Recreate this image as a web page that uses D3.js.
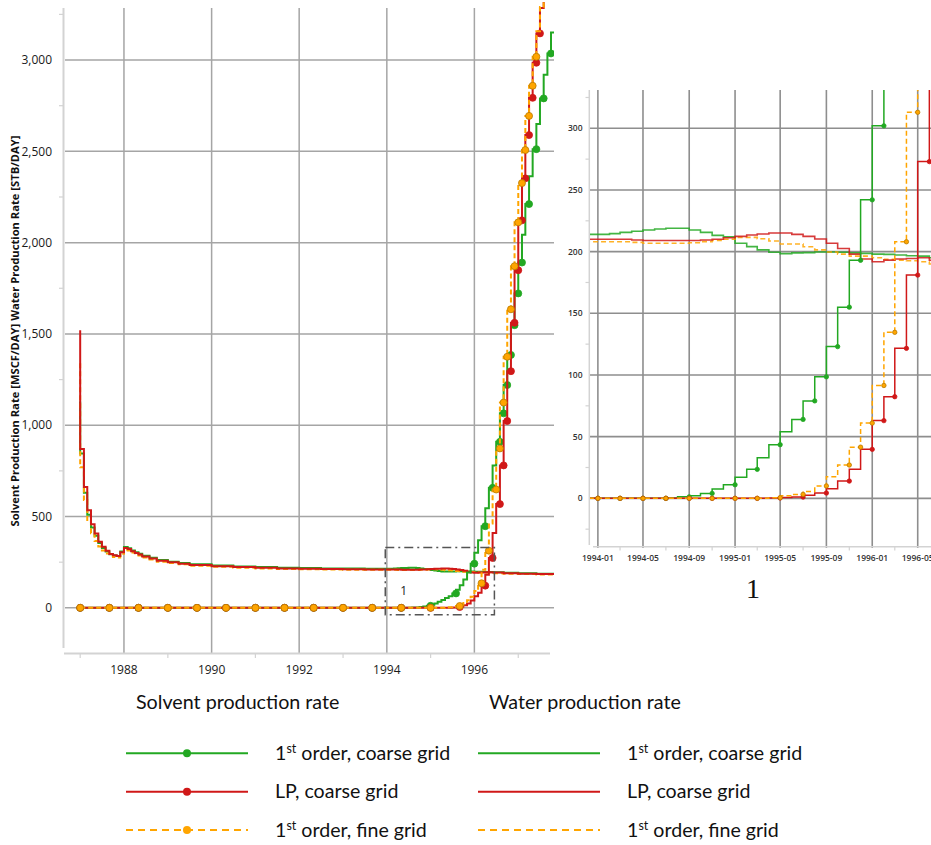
<!DOCTYPE html>
<html>
<head>
<meta charset="utf-8">
<script src="https://cdn.jsdelivr.net/npm/d3@7"></script>
<style>
  body { margin: 0; background: #fff; }
  svg { display: block; font-family: "Open Sans", sans-serif; }
</style>
</head>
<body>
<svg width="931" height="845"></svg>
<script>
// solvent production rate (with markers), monthly step values [month, value]
let greenSolvent = [["1987-01",0],["1994-07",0],["1994-08",0.3],["1994-09",1.2],["1994-10",2],["1994-11",4],["1994-12",7.5],
  ["1995-01",11],["1995-02",17],["1995-03",23.5],["1995-04",33],["1995-05",43.5],["1995-06",54],["1995-07",64],["1995-08",79],
  ["1995-09",98.5],["1995-10",123],["1995-11",155],["1995-12",193],["1996-01",242],["1996-02",302],["1996-03",370],["1996-04",447],
  ["1996-05",545],["1996-06",657],["1996-07",780],["1996-08",909],["1996-09",1065],["1996-10",1220],["1996-11",1385],["1996-12",1548],
  ["1997-01",1722],["1997-02",1891],["1997-03",2043],["1997-04",2211],["1997-05",2363],["1997-06",2512],["1997-07",2650],
  ["1997-08",2790],["1997-09",2920],["1997-10",3036],["1997-11",3151]];
let redSolvent = [["1987-01",0],["1995-04",0],["1995-05",0.3],["1995-06",0.6],["1995-07",1],["1995-08",2.4],["1995-09",4.3],
  ["1995-10",7.8],["1995-11",14],["1995-12",23.5],["1996-01",39.7],["1996-02",63],["1996-03",82.4],["1996-04",121.6],["1996-05",181],
  ["1996-06",273],["1996-07",410],["1996-08",568],["1996-09",780],["1996-10",1023],["1996-11",1296],["1996-12",1561],["1997-01",1849],
  ["1997-02",2122],["1997-03",2352],["1997-04",2589],["1997-05",2793],["1997-06",2985],["1997-07",3146],["1997-08",3285],["1997-09",3450]];
let orangeSolvent = [["1987-01",0],["1995-04",0],["1995-05",0.5],["1995-06",2],["1995-07",3.2],["1995-08",5.6],["1995-09",10],
  ["1995-10",17.5],["1995-11",27],["1995-12",41.5],["1996-01",61],["1996-02",91.5],["1996-03",134.6],["1996-04",208],["1996-05",313],
  ["1996-06",462],["1996-07",648],["1996-08",873],["1996-09",1124],["1996-10",1375],["1996-11",1635],["1996-12",1871],["1997-01",2111],
  ["1997-02",2326],["1997-03",2507],["1997-04",2694],["1997-05",2859],["1997-06",3018],["1997-07",3158],["1997-08",3290],["1997-09",3450]];

// water production rate (no markers)
let greenWater = [["1987-01",1130],["1987-02",845],["1987-03",630],["1987-04",510],["1987-05",440],["1987-06",395],["1987-07",355],
  ["1987-08",328],["1987-09",308],["1987-10",293],["1987-11",286],["1987-12",284],["1988-01",308],["1988-02",333],["1988-03",326],
  ["1988-04",314],["1988-05",304],["1988-06",296],["1988-08",285],["1988-10",274],["1989-01",262],["1989-04",253],["1989-07",246],
  ["1990-01",238],["1990-07",232],["1991-01",227],["1991-07",223],["1992-01",220],["1992-07",218],["1993-01",216],["1993-07",215],
  ["1994-01",214],["1994-02",214],["1994-03",214.6],["1994-04",215.6],["1994-05",216.5],["1994-06",217.5],["1994-07",218.4],
  ["1994-08",219],["1994-09",219],["1994-10",217.5],["1994-11",215.6],["1994-12",213.2],["1995-01",212],["1995-02",206.8],
  ["1995-03",204.1],["1995-04",201.4],["1995-05",199.5],["1995-06",198.4],["1995-07",199],["1995-08",199.2],["1995-09",199.7],
  ["1995-10",199.7],["1995-11",199.5],["1995-12",199],["1996-01",198.6],["1996-02",198],["1996-03",197.8],["1996-04",197.3],
  ["1996-05",196.7],["1996-06",196.4],["1996-09",195],["1997-01",192],["1997-06",189],["1997-11",187]];
let redWater = [["1987-01",1520],["1987-02",870],["1987-03",662],["1987-04",535],["1987-05",458],["1987-06",407],["1987-07",362],
  ["1987-08",334],["1987-09",312],["1987-10",295],["1987-11",288],["1987-12",284],["1988-01",305],["1988-02",328],["1988-03",322],
  ["1988-04",310],["1988-05",300],["1988-06",292],["1988-08",281],["1988-10",270],["1989-01",258],["1989-04",249],["1989-07",242],
  ["1990-01",234],["1990-07",228],["1991-01",223],["1991-07",219],["1992-01",216],["1992-07",214],["1993-01",212.5],["1993-07",211],
  ["1994-01",210],["1994-02",210],["1994-03",210],["1994-04",210],["1994-05",209.5],["1994-06",209],["1994-07",209],["1994-08",209],
  ["1994-09",209],["1994-10",209],["1994-11",209.5],["1994-12",210],["1995-01",211.3],["1995-02",212.4],["1995-03",213.5],
  ["1995-04",214.3],["1995-05",215.1],["1995-06",215.1],["1995-07",214],["1995-08",212.4],["1995-09",210.2],["1995-10",206.8],
  ["1995-11",202.5],["1995-12",198],["1996-01",194],["1996-02",191.8],["1996-03",193.1],["1996-04",194],["1996-05",194.5],
  ["1996-06",195],["1996-09",193],["1997-01",190],["1997-06",187],["1997-11",185]];
let orangeWater = [["1987-01",1340],["1987-02",770],["1987-03",590],["1987-04",475],["1987-05",408],["1987-06",366],["1987-07",336],
  ["1987-08",314],["1987-09",298],["1987-10",286],["1987-11",278],["1987-12",276],["1988-01",296],["1988-02",318],["1988-03",314],
  ["1988-04",303],["1988-05",294],["1988-06",286],["1988-08",276],["1988-10",265],["1989-01",253],["1989-04",245],["1989-07",238],
  ["1990-01",231],["1990-07",225],["1991-01",220],["1991-07",216],["1992-01",213],["1992-07",211],["1993-01",209.5],["1993-07",208.5],
  ["1994-01",208],["1994-02",208],["1994-03",208],["1994-04",208],["1994-05",207.5],["1994-06",206.8],["1994-07",206.8],
  ["1994-08",206.8],["1994-09",206.8],["1994-10",207.2],["1994-11",208.1],["1994-12",209],["1995-01",210],["1995-02",211.6],
  ["1995-03",211.6],["1995-04",210.5],["1995-05",208.6],["1995-06",206.2],["1995-07",206.2],["1995-08",204],["1995-09",201.4],
  ["1995-10",199.7],["1995-11",198],["1995-12",196.4],["1996-01",196.4],["1996-02",195],["1996-03",193.7],["1996-04",193.1],
  ["1996-05",192.6],["1996-06",191.8],["1996-09",190],["1997-01",187],["1997-06",185],["1997-11",183]];

let seriesNames = ["1st order, coarse grid", "LP, coarse grid", "1st order, fine grid"];
let seriesColors = ["#22a822", "#d01818", "#ffa500"];
let seriesDash = [null, null, "5,3"];

let mainYTicks = [0, 500, 1000, 1500, 2000, 2500, 3000];
let insetYTicks = [0, 50, 100, 150, 200, 250, 300];
let yTitle = "Solvent Production Rate [MSCF/DAY] Water Production Rate [STB/DAY]";

let parse = s => (s.length > 7 ? d3.utcParse("%Y-%m-%d") : d3.utcParse("%Y-%m"))(s);
let toPts = arr => arr.map(d => ({ date: parse(d[0]), value: d[1] }));

let svg = d3.select("svg");
let gridColor = "#a5a5a5";
let axisColor = "#d3d3d3";

// main chart scales
let x = d3.scaleUtc().domain([parse("1986-08-19"), parse("1997-10-26")]).range([64, 554]);
let y = d3.scaleLinear().domain([-220, 3285]).range([648, 8]);

// inset scales
let xi = d3.scaleUtc().domain([parse("1993-12-19"), parse("1996-06-16")]).range([593, 935]);
let yi = d3.scaleLinear().domain([-38, 330]).range([545.2, 91.3]);

let defs = svg.append("defs");
defs.append("clipPath").attr("id", "clipMain").append("rect")
  .attr("x", 64).attr("y", 2).attr("width", 490).attr("height", 646);
defs.append("clipPath").attr("id", "clipInset").append("rect")
  .attr("x", 590).attr("y", 90).attr("width", 345).attr("height", 455);

let reportMonths = d3.utcMonth.range(parse("1987-01"), parse("1997-12"));

// value of a step-before series at a date
function valueAt(pts, t) {
  for (let i = 0; i < pts.length; i++) {
    if (+pts[i].date >= +t) return pts[i].value;
  }
  return null;
}

// keep only markers far enough from the previous drawn one
function thinMarkers(pts, sx, sy, minDist) {
  let out = [];
  let last = null;
  reportMonths.forEach(t => {
    let v = valueAt(pts, t);
    if (v === null) return;
    let px = sx(t), py = sy(v);
    if (px < sx.range()[0] || px > sx.range()[1]) return;
    if (py < Math.min(...sy.range())) return;
    if (!last || Math.hypot(px - last[0], py - last[1]) >= minDist) {
      out.push({ date: t, value: v });
      last = [px, py];
    }
  });
  return out;
}

let water = [greenWater, redWater, orangeWater].map(toPts);
let solvent = [greenSolvent, redSolvent, orangeSolvent].map(toPts);

function drawPanel(g, sx, sy, clipId, lw, waterWidth, waterOpacity, markerR, minDist) {
  let line = d3.line().x(d => sx(d.date)).y(d => sy(d.value)).curve(d3.curveStepBefore);
  let lines = g.append("g").attr("clip-path", "url(#" + clipId + ")");
  // water first: green, orange, red
  [0, 2, 1].forEach(i => {
    lines.append("path")
      .datum(water[i])
      .attr("fill", "none")
      .attr("stroke", seriesColors[i])
      .attr("stroke-width", waterWidth)
      .attr("stroke-opacity", waterOpacity)
      .attr("stroke-dasharray", seriesDash[i])
      .attr("d", line);
  });
  [0, 1, 2].forEach(i => {
    lines.append("path")
      .datum(solvent[i])
      .attr("fill", "none")
      .attr("stroke", seriesColors[i])
      .attr("stroke-width", lw)
      .attr("stroke-dasharray", seriesDash[i])
      .attr("d", line);
    lines.append("g")
      .selectAll("circle")
      .data(thinMarkers(solvent[i], sx, sy, minDist))
      .enter()
      .append("circle")
      .attr("cx", d => sx(d.date))
      .attr("cy", d => sy(d.value))
      .attr("r", markerR)
      .attr("fill", seriesColors[i])
      .attr("stroke", i == 2 ? "#b77a00" : seriesColors[i])
      .attr("stroke-width", 0.8);
  });
}

// ---------- main chart ----------
let main = svg.append("g");

main.append("g").selectAll("line")
  .data(mainYTicks)
  .enter().append("line")
  .attr("x1", 65).attr("x2", 554)
  .attr("y1", d => y(d)).attr("y2", d => y(d))
  .attr("stroke", gridColor).attr("stroke-width", 1.5);

let yearTicks = d3.utcYear.every(2).range(parse("1988-01"), parse("1997-01"));
let oddYears = d3.utcYear.every(1).range(parse("1987-01"), parse("1998-01")).filter(d => d.getUTCFullYear() % 2 == 1);

main.append("g").selectAll("line")
  .data(yearTicks)
  .enter().append("line")
  .attr("x1", d => x(d)).attr("x2", d => x(d))
  .attr("y1", 8).attr("y2", 653)
  .attr("stroke", gridColor).attr("stroke-width", 1.5);

// axes lines
main.append("line").attr("x1", 63.5).attr("x2", 63.5).attr("y1", 8).attr("y2", 648)
  .attr("stroke", axisColor).attr("stroke-width", 2);
main.append("line").attr("x1", 64).attr("x2", 550).attr("y1", 653.5).attr("y2", 653.5)
  .attr("stroke", axisColor).attr("stroke-width", 2);

// y minor ticks
main.append("g").selectAll("line")
  .data(d3.range(250, 3300, 500))
  .enter().append("line")
  .attr("x1", 59).attr("x2", 63)
  .attr("y1", d => y(d)).attr("y2", d => y(d))
  .attr("stroke", axisColor).attr("stroke-width", 1.2);

main.append("g").selectAll("text")
  .data(mainYTicks)
  .enter().append("text")
  .attr("x", 52).attr("y", d => y(d)).attr("dy", "0.35em")
  .attr("text-anchor", "end")
  .attr("font-size", 12).attr("fill", "#1a1a1a")
  .text(d3.format(","));

// x minor ticks
main.append("g").selectAll("line")
  .data(oddYears)
  .enter().append("line")
  .attr("x1", d => x(d)).attr("x2", d => x(d))
  .attr("y1", 654).attr("y2", 658)
  .attr("stroke", axisColor).attr("stroke-width", 1.2);

main.append("g").selectAll("text")
  .data(yearTicks)
  .enter().append("text")
  .attr("x", d => x(d)).attr("y", 674)
  .attr("text-anchor", "middle")
  .attr("font-size", 12).attr("fill", "#1a1a1a")
  .text(d3.utcFormat("%Y"));

main.append("text")
  .attr("transform", "translate(19,331) rotate(-90)")
  .attr("text-anchor", "middle")
  .attr("font-size", 11.2).attr("font-weight", "bold").attr("fill", "#111")
  .text(yTitle);

drawPanel(main, x, y, "clipMain", 2, 2, 1, 3.5, 28);

// zoom box
let bx0 = x(xi.domain()[0]), bx1 = x(xi.domain()[1]);
let by0 = y(yi.domain()[1]), by1 = y(yi.domain()[0]);
main.append("rect")
  .attr("x", bx0).attr("y", by0)
  .attr("width", bx1 - bx0).attr("height", by1 - by0)
  .attr("fill", "none").attr("stroke", "#555")
  .attr("stroke-width", 1.5).attr("stroke-dasharray", "9,4,2,4");
main.append("text")
  .attr("x", bx0 + 15).attr("y", by0 + 47)
  .attr("font-size", 12).attr("fill", "#222")
  .text("1");

// ---------- inset ----------
let inset = svg.append("g");
let insetGrid = "#8e8e8e";
let insetMajor = d3.utcMonth.every(4).range(parse("1994-01"), parse("1996-07"));
let insetMinor = d3.utcMonth.every(2).range(parse("1994-01"), parse("1996-07")).filter(d => d.getUTCMonth() % 4 == 2);

inset.append("g").selectAll("line")
  .data(insetYTicks)
  .enter().append("line")
  .attr("x1", 590).attr("x2", 935)
  .attr("y1", d => yi(d)).attr("y2", d => yi(d))
  .attr("stroke", insetGrid).attr("stroke-width", 1.6);

inset.append("g").selectAll("line")
  .data(insetMajor)
  .enter().append("line")
  .attr("x1", d => xi(d)).attr("x2", d => xi(d))
  .attr("y1", 90).attr("y2", 548)
  .attr("stroke", insetGrid).attr("stroke-width", 1.6);

inset.append("line").attr("x1", 589.3).attr("x2", 589.3).attr("y1", 90).attr("y2", 545)
  .attr("stroke", axisColor).attr("stroke-width", 1.5);
inset.append("line").attr("x1", 593).attr("x2", 935).attr("y1", 546.8).attr("y2", 546.8)
  .attr("stroke", axisColor).attr("stroke-width", 1.5);

inset.append("g").selectAll("line")
  .data(d3.range(-25, 330, 50))
  .enter().append("line")
  .attr("x1", 585.5).attr("x2", 589)
  .attr("y1", d => yi(d)).attr("y2", d => yi(d))
  .attr("stroke", axisColor).attr("stroke-width", 1.2);

inset.append("g").selectAll("line")
  .data(insetMinor)
  .enter().append("line")
  .attr("x1", d => xi(d)).attr("x2", d => xi(d))
  .attr("y1", 547).attr("y2", 550.5)
  .attr("stroke", axisColor).attr("stroke-width", 1.2);

inset.append("g").selectAll("text")
  .data(insetYTicks)
  .enter().append("text")
  .attr("x", 582.5).attr("y", d => yi(d)).attr("dy", "0.35em")
  .attr("text-anchor", "end")
  .attr("font-size", 8.5).attr("font-weight", 600).attr("fill", "#333")
  .text(d => d);

inset.append("g").selectAll("text")
  .data(insetMajor)
  .enter().append("text")
  .attr("x", d => xi(d)).attr("y", 560.5)
  .attr("text-anchor", "middle")
  .attr("font-size", 8.5).attr("font-weight", 600).attr("fill", "#333")
  .text(d3.utcFormat("%Y-%m"));

drawPanel(inset, xi, yi, "clipInset", 1.5, 1.6, 0.85, 2.2, 20);

inset.append("text")
  .attr("x", 753).attr("y", 598)
  .attr("text-anchor", "middle")
  .attr("font-family", "'Liberation Serif', serif")
  .attr("font-size", 28).attr("fill", "#111")
  .text("1");

// ---------- legend ----------
let legend = svg.append("g").attr("font-family", "Lato, 'Open Sans', sans-serif").attr("fill", "#111");
let legendRows = [753.3, 791.7, 830];
let legendCols = [
  { title: "Solvent production rate", titleX: 136, x1: 126, x2: 248, textX: 275, marker: true },
  { title: "Water production rate", titleX: 489, x1: 478, x2: 600, textX: 627, marker: false }
];

legendCols.forEach(col => {
  legend.append("text")
    .attr("x", col.titleX).attr("y", 708.5)
    .attr("font-size", 19.7)
    .text(col.title);
  seriesNames.forEach((name, i) => {
    let ly = legendRows[i];
    legend.append("line")
      .attr("x1", col.x1).attr("x2", col.x2)
      .attr("y1", ly).attr("y2", ly)
      .attr("stroke", seriesColors[i]).attr("stroke-width", 2)
      .attr("stroke-dasharray", i == 2 ? "7,5" : null);
    if (col.marker) {
      legend.append("circle")
        .attr("cx", (col.x1 + col.x2) / 2).attr("cy", ly).attr("r", 4)
        .attr("fill", seriesColors[i]);
    }
    let t = legend.append("text")
      .attr("x", col.textX).attr("y", ly + 6.5)
      .attr("font-size", 19.6);
    let m = name.match(/^(\d)(st)(.*)$/);
    if (m) {
      t.append("tspan").text(m[1]);
      t.append("tspan").attr("font-size", 12.5).attr("dy", -7).text(m[2]);
      t.append("tspan").attr("dy", 7).text(m[3]);
    } else {
      t.text(name);
    }
  });
});
</script>
</body>
</html>
